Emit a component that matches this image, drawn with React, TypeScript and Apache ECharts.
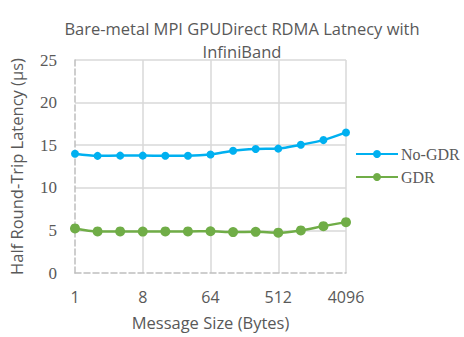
import React, { useEffect, useRef } from "react";
import * as echarts from "echarts";

const sizes = [1, 2, 4, 8, 16, 32, 64, 128, 256, 512, 1024, 2048, 4096];
const noGdr = [14.0, 13.75, 13.78, 13.78, 13.77, 13.77, 13.9, 14.35, 14.55, 14.6, 15.05, 15.6, 16.5];
const gdr = [5.23, 4.88, 4.88, 4.86, 4.88, 4.88, 4.9, 4.8, 4.83, 4.73, 5.0, 5.5, 5.97];
const titleLines = ["Bare-metal MPI GPUDirect RDMA Latnecy with", "InfiniBand"];
const xName = "Message Size (Bytes)";
const yName = "Half Round-Trip Latency (\u00b5s)";

const SANS = "Open Sans";
const SERIF = "Liberation Serif";
const GRAY = "#595959";

export default function App() {
  const ref = useRef<HTMLDivElement>(null);
  useEffect(() => {
    if (!ref.current) return;
    const chart = echarts.init(ref.current, undefined, { renderer: "svg" });
    chart.setOption({
      animation: false,
      backgroundColor: "#ffffff",
      graphic: [
        {
          type: "text",
          x: 242,
          y: 40,
          style: {
            text: titleLines.join("\n"),
            fill: GRAY,
            fontFamily: SANS,
            fontSize: 16.5,
            align: "center",
            verticalAlign: "middle",
            lineHeight: 23,
          },
        },
      ],
      grid: { left: 72, right: 118, top: 60, bottom: 64 },
      legend: {
        orient: "vertical",
        left: 350,
        top: 141,
        itemWidth: 42,
        itemHeight: 10,
        itemGap: 7,
        textStyle: { fontFamily: SERIF, fontSize: 16, color: GRAY, padding: [0, 0, 0, -2] },
        data: ["No-GDR", "GDR"],
      },
      xAxis: {
        type: "log",
        logBase: 8,
        min: 1,
        max: 4096,
        name: xName,
        nameLocation: "middle",
        nameGap: 41,
        nameTextStyle: { fontFamily: SANS, fontSize: 16.5, color: GRAY },
        axisLine: { show: true, lineStyle: { color: "#BFBFBF", width: 1.5, type: [6, 3] } },
        axisTick: { show: false },
        axisLabel: {
          fontFamily: SANS,
          fontSize: 16,
          color: GRAY,
          margin: 16,
          formatter: (v: number) => String(Math.round(v)),
        },
        splitLine: { show: true, showMinLine: false, lineStyle: { color: "#D9D9D9", width: 1.5 } },
      },
      yAxis: {
        type: "value",
        min: 0,
        max: 25,
        interval: 5,
        name: yName,
        nameLocation: "middle",
        nameRotate: 90,
        nameGap: 50,
        nameTextStyle: { fontFamily: SANS, fontSize: 16.5, color: GRAY },
        axisLine: { show: true, lineStyle: { color: "#BFBFBF", width: 1.5, type: [6, 3] } },
        axisTick: { show: false },
        axisLabel: { fontFamily: SERIF, fontSize: 17, color: GRAY, margin: 18 },
        splitLine: { show: true, showMinLine: false, lineStyle: { color: "#D9D9D9", width: 1.5 } },
      },
      series: [
        {
          name: "No-GDR",
          type: "line",
          smooth: 0.3,
          data: sizes.map((s, i) => [s, noGdr[i]]),
          symbol: "circle",
          symbolSize: 8,
          lineStyle: { color: "#00B0F0", width: 2.5 },
          itemStyle: { color: "#00B0F0" },
        },
        {
          name: "GDR",
          type: "line",
          smooth: 0.3,
          data: sizes.map((s, i) => [s, gdr[i]]),
          symbol: "circle",
          symbolSize: 10,
          lineStyle: { color: "#70AD47", width: 2.5 },
          itemStyle: { color: "#70AD47" },
        },
      ],
    });
    return () => chart.dispose();
  }, []);
  return (
    <div
      ref={ref}
      style={{ position: "fixed", left: 0, top: 0, width: 464, height: 337, background: "#fff" }}
    />
  );
}
